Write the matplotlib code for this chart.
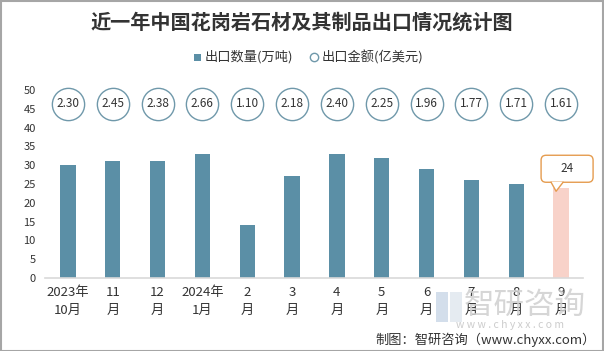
import matplotlib
matplotlib.use('Agg')
import matplotlib.pyplot as plt
import matplotlib.transforms as mtransforms
from matplotlib.patches import FancyBboxPatch, Polygon, Rectangle
from matplotlib.lines import Line2D
import numpy as np

plt.rcParams['font.family'] = ['Noto Sans CJK SC', 'DejaVu Sans']

title = '近一年中国花岗岩石材及其制品出口情况统计图'
months = ['2023年\n10月', '11\n月', '12\n月', '2024年\n1月', '2\n月', '3\n月',
          '4\n月', '5\n月', '6\n月', '7\n月', '8\n月', '9\n月']
volume = [30, 31, 31, 33, 14, 27, 33, 32, 29, 26, 25, 24]      # 出口数量(万吨)
amount = [2.30, 2.45, 2.38, 2.66, 1.10, 2.18, 2.40, 2.25, 1.96, 1.77, 1.71, 1.61]  # 出口金额(亿美元)

bar_color = '#5b8fa6'
last_color = '#f8d2c9'
ring_color = '#6f98aa'
orange = '#e59c4f'
text_color = '#333333'

W, H = 604, 351
fig = plt.figure(figsize=(W / 100, H / 100), dpi=100)
ax = fig.add_axes([45.5 / W, 1 - 278 / H, 538 / W, 188 / H])

x = np.arange(len(volume))
colors = [bar_color] * (len(volume) - 1) + [last_color]
ax.bar(x, volume, width=0.34, color=colors, zorder=2)

ax.set_xlim(-0.5, len(volume) - 0.5)
ax.set_ylim(0, 50)
ax.set_yticks(range(0, 51, 5))
ax.tick_params(axis='y', length=0, pad=7, labelsize=8, labelcolor=text_color)
ax.set_xticks(x)
ax.set_xticklabels(months, fontsize=9.5, color=text_color, linespacing=1.5)
ax.tick_params(axis='x', length=0, pad=6)
for s in ['top', 'right', 'left']:
    ax.spines[s].set_visible(False)
ax.spines['bottom'].set_color('#d9d9d9')
ax.spines['bottom'].set_linewidth(1.2)

# amount circles across the top
ring_y = 46.3
ax.scatter(x, [ring_y] * len(x), s=540, facecolor='white', edgecolor=ring_color,
           linewidth=1.0, zorder=3, clip_on=False)
for xi, a in zip(x, amount):
    ax.text(xi, ring_y, '{:.2f}'.format(a), ha='center', va='center',
            fontsize=8.5, color=text_color, zorder=4)

# callout for latest month (inch offsets from bar top)
li = len(volume) - 1
trans = fig.dpi_scale_trans + mtransforms.ScaledTranslation(li, volume[li], ax.transData)
box = FancyBboxPatch((-0.20, 0.055), 0.52, 0.27,
                     boxstyle='round,pad=0,rounding_size=0.05',
                     facecolor='white', edgecolor=orange, linewidth=1.0,
                     transform=trans, clip_on=False, zorder=5)
ax.add_patch(box)
ax.add_patch(Polygon([(-0.10, 0.058), (0.02, 0.058), (-0.05, -0.035)], closed=True,
                     facecolor='white', edgecolor='none', transform=trans,
                     clip_on=False, zorder=6))
ax.add_line(Line2D([-0.10, -0.05, 0.02], [0.055, -0.035, 0.055], color=orange,
                   linewidth=1.0, transform=trans, clip_on=False, zorder=7))
ax.text(0.06, 0.19, str(volume[li]), transform=trans, ha='center', va='center',
        fontsize=8.5, color=text_color, zorder=8)

# title and legend
fig.text(0.5, 1 - 22 / H, title, ha='center', va='center', fontsize=14.5,
         fontweight='bold', color='#333333')
fig.patches.append(Rectangle((194 / W, 1 - 61 / H), 7 / W, 7 / H, transform=fig.transFigure,
                             facecolor=bar_color, edgecolor='none'))
fig.text(205 / W, 1 - 57 / H, '出口数量(万吨)', ha='left', va='center', fontsize=9.5,
         color=text_color)
fig.lines.append(Line2D([314 / W], [1 - 57 / H], marker='o', markersize=6,
                        markerfacecolor='white', markeredgecolor=ring_color,
                        markeredgewidth=1.0, transform=fig.transFigure))
fig.text(322 / W, 1 - 57 / H, '出口金额(亿美元)', ha='left', va='center', fontsize=9.5,
         color=text_color)

# watermark
fig.patches.append(Rectangle((436 / W, 1 - 322 / H), 12 / W, 30 / H, transform=fig.transFigure,
                             facecolor='#c9d6e6', edgecolor='none', alpha=0.8))
fig.patches.append(Rectangle((450 / W, 1 - 322 / H), 12 / W, 30 / H, transform=fig.transFigure,
                             facecolor='#dfe6ee', edgecolor='none', alpha=0.8))
fig.text(525 / W, 1 - 305 / H, '智研咨询', ha='center', va='center', fontsize=22,
         color='#cfcfcf', alpha=0.85)
fig.text(510 / W, 1 - 325 / H, 'w w w . c h y x x . c o m', ha='center', va='center',
         fontsize=7.5, color='#cccccc')

# source
fig.text(596 / W, 1 - 340 / H, '制图：智研咨询（www.chyxx.com）', ha='right', va='center',
         fontsize=9.5, color=text_color)

# outer border
fig.patches.append(Rectangle((0.5 / W, 0.5 / H), 1 - 1.5 / W, 1 - 1.5 / H,
                             transform=fig.transFigure, facecolor='none',
                             edgecolor='#a6a6a6', linewidth=1.5))

fig.savefig('out.png', dpi=100)
